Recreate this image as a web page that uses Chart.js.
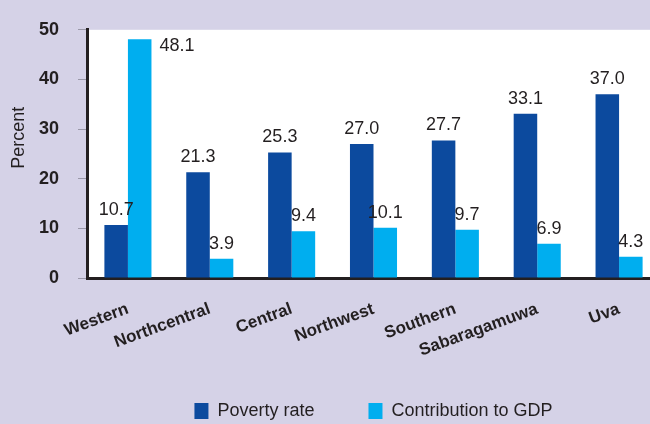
<!DOCTYPE html>
<html>
<head>
<meta charset="utf-8">
<script src="https://cdn.jsdelivr.net/npm/chart.js@4"></script>
<style>
  html, body { margin: 0; padding: 0; background: #d5d2e7; overflow: hidden; }
  #wrap { position: relative; width: 660px; height: 424px; }
</style>
</head>
<body>
<div id="wrap"><canvas id="myChart"></canvas></div>
<script>
var provinces = ["Western", "Northcentral", "Central", "Northwest", "Southern", "Sabaragamuwa", "Uva"]
var povertyRate = [10.7, 21.3, 25.3, 27.0, 27.7, 33.1, 37.0]
var gdpShare = [48.1, 3.9, 9.4, 10.1, 9.7, 6.9, 4.3]
var yTicks = [0, 10, 20, 30, 40, 50]

var ink = '#231f20'
var sans = '"Liberation Sans", Arial, sans-serif'

// white plot background
var plotBg = {
    id: 'plotBg',
    beforeDraw: function (chart) {
        var a = chart.chartArea
        var ctx = chart.ctx
        ctx.save()
        ctx.fillStyle = '#ffffff'
        ctx.fillRect(a.left, a.top, a.right - a.left, a.bottom - a.top)
        ctx.restore()
    }
}

// legend keeps its wide item gap but sits a bit higher than its box
var legendNudge = {
    id: 'legendNudge',
    afterLayout: function (chart) {
        chart.legend.top -= 10
        chart.legend.bottom -= 10
    }
}

// "Percent" axis title, sitting a little above the middle of the axis
var yTitle = {
    id: 'yTitle',
    afterDraw: function (chart) {
        var a = chart.chartArea
        var ctx = chart.ctx
        ctx.save()
        ctx.translate(19, a.top + (a.bottom - a.top) * 0.435)
        ctx.rotate(-Math.PI / 2)
        ctx.font = '18px ' + sans
        ctx.fillStyle = ink
        ctx.textAlign = 'center'
        ctx.textBaseline = 'middle'
        ctx.fillText('Percent', 0, 0)
        ctx.restore()
    }
}

// value labels over each bar (beside the bar when there is no room above)
var valueLabels = {
    id: 'valueLabels',
    afterDatasetsDraw: function (chart) {
        var ctx = chart.ctx
        ctx.save()
        ctx.font = '18px ' + sans
        ctx.fillStyle = ink
        chart.data.datasets.forEach(function (ds, i) {
            var meta = chart.getDatasetMeta(i)
            meta.data.forEach(function (bar, j) {
                var txt = ds.data[j].toFixed(1)
                if (bar.y - 28 < chart.chartArea.top) {
                    ctx.textAlign = 'left'
                    ctx.textBaseline = 'middle'
                    ctx.fillText(txt, bar.x + bar.width / 2 + 8, bar.y + 7)
                } else {
                    ctx.textAlign = 'center'
                    ctx.textBaseline = 'alphabetic'
                    ctx.fillText(txt, bar.x, bar.y - 10)
                }
            })
        })
        ctx.restore()
    }
}

var ctx = document.getElementById("myChart")
var myBarChart = new Chart(ctx, {
    type: 'bar',
    data: {
        labels: provinces,
        datasets: [{
            label: 'Poverty rate',
            data: povertyRate,
            backgroundColor: '#0c4a9e'
        }, {
            label: 'Contribution to GDP',
            data: gdpShare,
            backgroundColor: '#00aeef'
        }]
    },
    options: {
        responsive: true,
        maintainAspectRatio: false,
        animation: false,
        devicePixelRatio: 1,
        categoryPercentage: 0.575,
        barPercentage: 1,
        layout: { padding: { top: 19, left: 0, right: 0, bottom: -16 } },
        plugins: {
            tooltip: { enabled: false },
            legend: {
                position: 'bottom',
                fullSize: false,
                labels: {
                    boxWidth: 14,
                    boxHeight: 16,
                    padding: 54,
                    color: ink,
                    font: { family: sans, size: 18 }
                }
            }
        },
        scales: {
            x: {
                grid: { display: false, drawTicks: false },
                border: { display: true, color: ink, width: 3 },
                ticks: {
                    minRotation: 20,
                    maxRotation: 20,
                    padding: 21,
                    color: ink,
                    font: { family: sans, size: 17, weight: 'bold' }
                },
                afterFit: function (scale) { scale.height = 80 }
            },
            y: {
                min: 0,
                max: 50,
                afterBuildTicks: function (scale) {
                    scale.ticks = yTicks.map(function (v) { return { value: v } })
                },
                grid: {
                    drawOnChartArea: false,
                    drawTicks: true,
                    tickLength: 9,
                    tickColor: '#9a98a8',
                    lineWidth: 1
                },
                border: { display: true, color: ink, width: 3 },
                ticks: {
                    padding: 19,
                    color: ink,
                    font: { family: sans, size: 18, weight: 'bold' }
                },
                afterFit: function (scale) { scale.width = 87 }
            }
        }
    },
    plugins: [plotBg, legendNudge, yTitle, valueLabels]
})
</script>
</body>
</html>
